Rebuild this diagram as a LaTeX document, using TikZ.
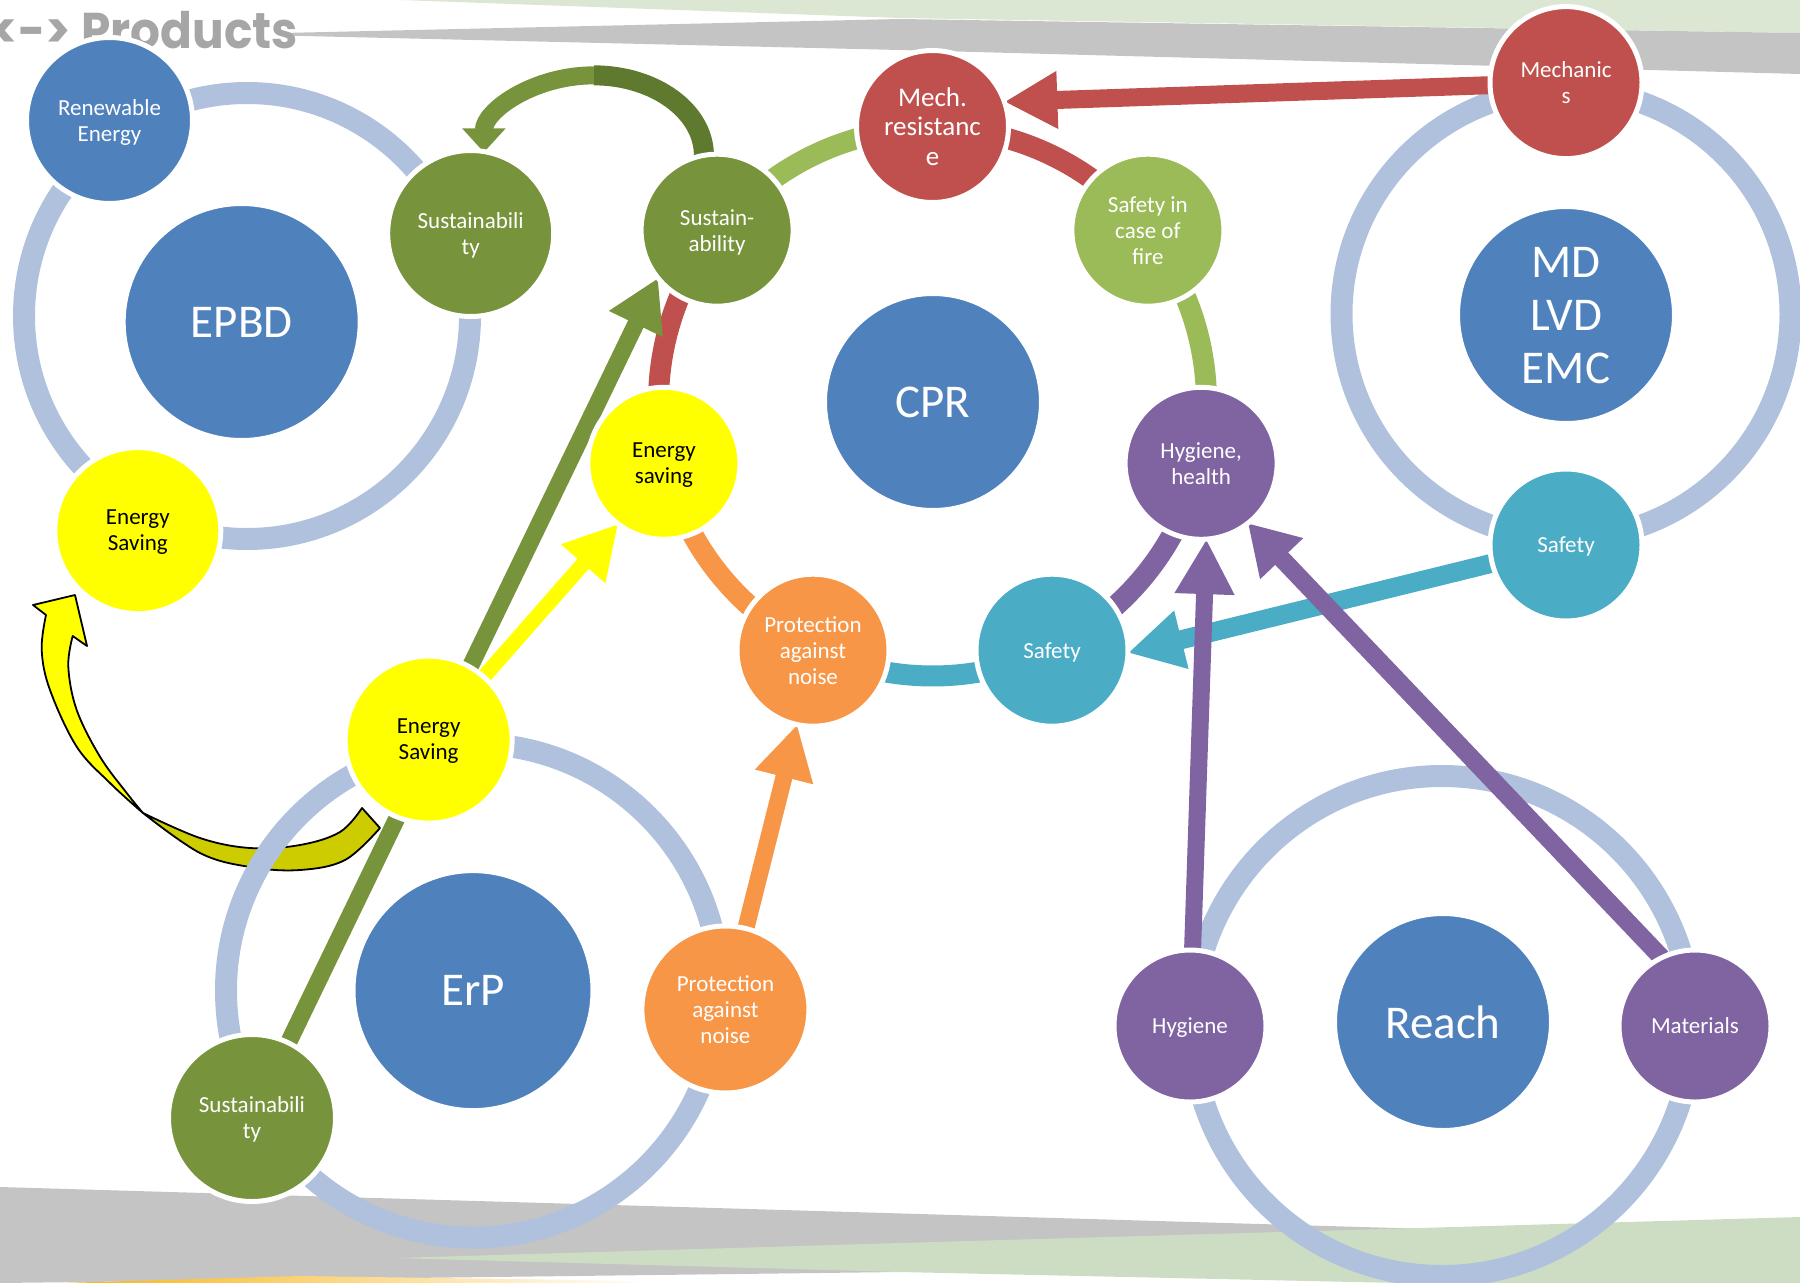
\documentclass[tikz,border=0pt]{standalone}
\usepackage{fontspec}
\setmainfont{Carlito}
\newfontfamily\headfont{Poppins}
\usetikzlibrary{arrows.meta}
\pgfdeclarelayer{bg}
\pgfdeclarelayer{mid}
\pgfsetlayers{bg,mid,main}

\definecolor{cblue}{HTML}{4F81BD}
\definecolor{cring}{RGB}{176,193,221}
\definecolor{colive}{HTML}{77933C}
\definecolor{colived}{HTML}{5F7A2E}
\definecolor{clgreen}{HTML}{9BBB59}
\definecolor{cred}{HTML}{C0504D}
\definecolor{cpurple}{HTML}{8064A2}
\definecolor{cteal}{HTML}{4BACC6}
\definecolor{corange}{HTML}{F79646}
\definecolor{cyellow}{HTML}{FFFF00}
\definecolor{cdyellow}{HTML}{CCCC00}
\definecolor{bggray}{HTML}{C4C4C4}
\definecolor{bggreen}{HTML}{DCE7D3}
\definecolor{bggreentwo}{HTML}{CDDDC3}
\definecolor{bgorange}{HTML}{F8B418}
\definecolor{headgray}{HTML}{A6A6A6}

\begin{document}
\begin{tikzpicture}[x=1pt,y=-1pt,
 ball/.style={circle, draw=white, line width=5pt, inner sep=0pt, outer sep=0pt, text=white, align=center, text depth=0pt, font=\fontsize{23}{26}\selectfont},
 sm/.style={ball, minimum size=152pt},
 lg/.style={ball, minimum size=166pt},
 bigc/.style={ball, fill=cblue, font=\fontsize{47}{53}\selectfont},
 ringc/.style={draw=cring, line width=22pt},
 cyc/.style={line width=21pt},
 outl/.style={draw=black, line width=1.8pt, line join=round}
]
\useasboundingbox (0,0) rectangle (1800,1283);

% ---------- EPBD ----------
\node[lg, fill=cblue] (ren) at (109.5,120.5) {Renewable\\Energy};
\node[bigc, minimum size=237pt] (epbd) at (241.7,322) {EPBD};
\node[lg, fill=colive] (epsus) at (470.7,233.5) {Sustainabili\\ty};
\node[lg, fill=cyellow, text=black] (epes) at (137.8,530.6) {Energy\\Saving};

% ---------- CPR ----------
\coordinate (cprc) at (932.5,402);
\node[bigc, minimum size=217pt] (cpr) at (933,402) {CPR};
\node[sm, fill=cred, font=\fontsize{27}{29.5}\selectfont] (cprmech) at (932.5,126.5) {Mech.\\resistanc\\e};
\node[sm, fill=clgreen] (cprfire) at (1147.9,230.2) {Safety in\\case of\\fire};
\node[sm, fill=cpurple] (cprhyg) at (1201.1,463.3) {Hygiene,\\health};
\node[sm, fill=cteal] (cprsafe) at (1052,650.2) {Safety};
\node[sm, fill=corange] (cprprot) at (813,650.2) {Protection\\against\\noise};
\node[sm, fill=cyellow, text=black] (cpres) at (663.9,463.3) {Energy\\saving};
\node[sm, fill=colive] (cprsus) at (717.1,230.2) {Sustain-\\ability};

% ---------- MD ----------
\node[sm, fill=cred] (mdmech) at (1566,82.6) {Mechanic\\s};
\node[bigc, minimum size=217pt] (md) at (1566,315) {MD\\LVD\\EMC};
\node[sm, fill=cteal] (mdsafe) at (1566,545) {Safety};

% ---------- ErP ----------
\node[lg, fill=cyellow, text=black, minimum size=167pt] (erpes) at (428.6,739.6) {Energy\\Saving};
\node[bigc, minimum size=240pt] (erp) at (473,990.6) {ErP};
\node[lg, fill=corange, minimum size=167pt] (erpprot) at (725.4,1009.5) {Protection\\against\\noise};
\node[lg, fill=colive, minimum size=167pt] (erpsus) at (252,1118) {Sustainabili\\ty};

% ---------- Reach ----------
\node[sm, fill=cpurple] (rhyg) at (1190,1026) {Hygiene};
\node[bigc, minimum size=217pt] (reach) at (1443,1022) {Reach};
\node[sm, fill=cpurple] (rmat) at (1695,1026) {Materials};

% ---------- background ----------
\begin{pgfonlayer}{bg}
\fill[bggreen] (400,0) -- (1800,0) -- (1800,33) -- (900,18) -- cycle;
\fill[bggray] (282,33) -- (900,19) -- (1800,33) -- (1800,74) -- (900,50) -- (282,35.5) -- cycle;
\fill[bggray] (0,1187) -- (1430,1229) -- (900,1272) -- (0,1283) -- cycle;
\fill[bggreentwo] (396,1258) -- (900,1243) -- (1800,1217) -- (1800,1283) -- (1400,1283) -- (900,1272) -- cycle;
\shade[left color=bgorange, right color=white] (60,1283) -- (300,1276) -- (650,1281) -- (650,1283) -- cycle;
\node[anchor=base east, inner sep=0pt, text=headgray, font=\headfont\bfseries\fontsize{47}{50}\selectfont] (title) at (298,48) {\scalebox{1}[1.07]{<-> Products}};
\end{pgfonlayer}

% ---------- connectors ----------
\begin{pgfonlayer}{mid}
% curved yellow arrow (ErP Energy Saving -> EPBD Energy Saving)
\path[fill=cyellow, outl]
 plot[smooth, tension=0.6] coordinates {(143,813) (110,783) (76.7,746.7) (50,690) (41.7,650) (46,615)}
 -- (33,605) -- (75,595) -- (87,646) -- (72.7,636)
 -- plot[smooth, tension=0.6] coordinates {(72.7,636) (68.3,666.7) (76.7,710) (100,756.7) (126.7,793) (143,813)} -- cycle;
\path[fill=cdyellow, outl]
 plot[smooth, tension=0.6] coordinates {(143,813) (200,838) (250,848) (300,845) (340,832) (362,808)}
 -- (380,828)
 -- plot[smooth, tension=0.6] coordinates {(380,828) (345,860) (300,870) (250,867) (200,853) (143,813)} -- cycle;

% rings
\draw[ringc] (247,316) circle[radius=223];
\draw[ringc] (1566,314) circle[radius=224.5];
\draw[ringc] (473,990.6) circle[radius=247];
\draw[ringc] (1442,1026) circle[radius=250];

% CPR cycle arcs
\draw[cyc, clgreen] (cprc) ++(218.57:274) arc[start angle=218.57, end angle=270, radius=274];
\draw[cyc, cred] (cprc) ++(270:274) arc[start angle=270, end angle=321.43, radius=274];
\draw[cyc, clgreen] (cprc) ++(321.43:274) arc[start angle=321.43, end angle=372.86, radius=274];
\draw[cyc, cpurple] (cprc) ++(12.86:274) arc[start angle=12.86, end angle=64.29, radius=274];
\draw[cyc, cteal] (cprc) ++(64.29:274) arc[start angle=64.29, end angle=115.71, radius=274];
\draw[cyc, corange] (cprc) ++(115.71:274) arc[start angle=115.71, end angle=167.14, radius=274];
\draw[cyc, cred] (cprc) ++(167.14:274) arc[start angle=167.14, end angle=218.57, radius=274];

% curved green arrow
\draw[line width=20pt, colived] (cprsus.100) arc[start angle=0, end angle=-90, x radius=110, y radius=80] coordinate (gapex);
\draw[line width=18pt, colive, -{Triangle[width=42pt,length=24pt]}, shorten >=3pt] (gapex) arc[start angle=-90, end angle=-180, x radius=110, y radius=80];

% straight arrows
\draw[line width=18pt, cred, -{Triangle[width=54pt,length=53pt]}] (mdmech.center) -- (cprmech.19);
\draw[line width=17pt, colive, -{Triangle[width=56pt,length=51pt]}] (erpsus.center) -- (cprsus.219);
\draw[line width=15pt, cyellow, -{Triangle[width=55pt,length=53pt]}] (erpes.center) -- (cpres.233);
\draw[line width=17pt, corange, -{Triangle[width=56pt,length=54pt]}] (erpprot.center) -- (cprprot.258);
\draw[line width=19pt, cteal, -{Triangle[width=56pt,length=55pt]}] (mdsafe.center) -- (cprsafe.-2);
\draw[line width=17pt, cpurple, -{Triangle[width=56pt,length=55pt]}] (rhyg.center) -- (cprhyg.274);
\draw[line width=18pt, cpurple, -{Triangle[width=56pt,length=49pt]}] (rmat.116) -- (cprhyg.308);
\end{pgfonlayer}
\end{tikzpicture}
\end{document}
